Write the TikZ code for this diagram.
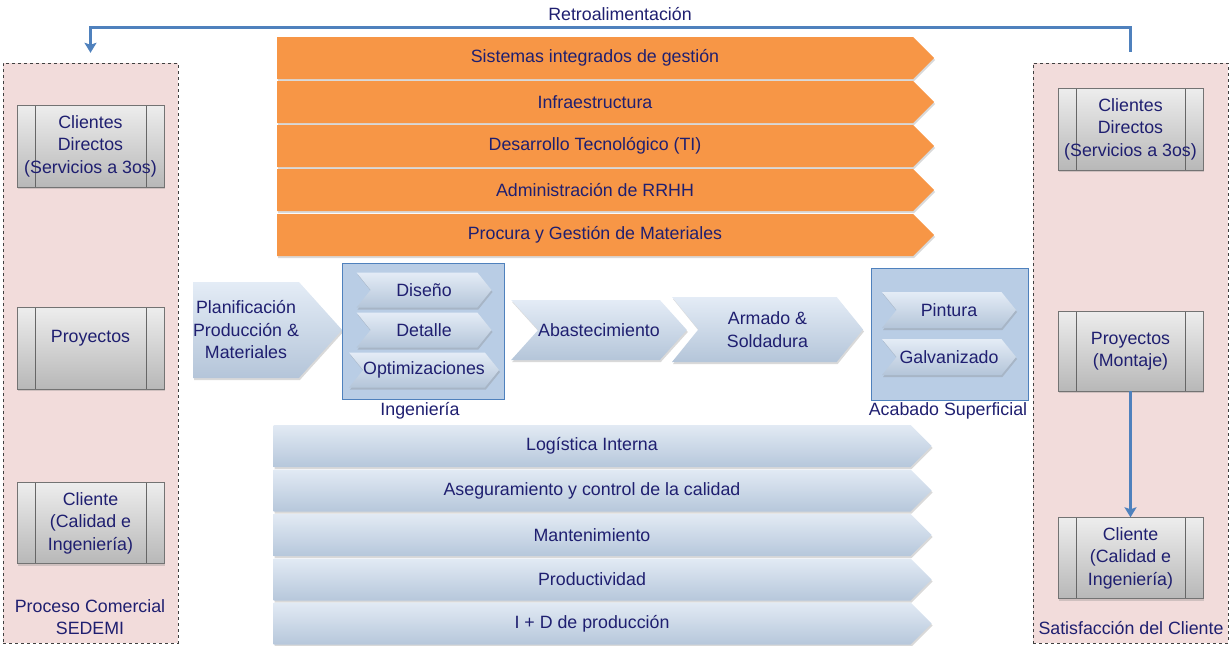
\documentclass[tikz,border=0pt]{standalone}
\usepackage{fontspec}
\setmainfont{Liberation Sans}
\usetikzlibrary{shapes.symbols,shadows,arrows.meta}
\definecolor{azultxt}{RGB}{31,31,112}
\definecolor{naranja}{RGB}{247,150,70}
\definecolor{rosa}{RGB}{242,220,219}
\definecolor{azulfl}{RGB}{79,129,189}
\definecolor{azulcaja}{RGB}{185,205,229}
\tikzset{
  sombra/.style = {drop shadow={opacity=0.3, shadow xshift=1pt, shadow yshift=-2pt}},
  apoyo/.style = {signal, signal to=east, fill=naranja, minimum width=657pt, minimum height=42pt, inner sep=0pt, sombra},
  soporte/.style = {signal, signal to=east, top color={rgb,255:red,226;green,234;blue,244}, bottom color={rgb,255:red,182;green,199;blue,219}, minimum width=658pt, minimum height=42pt, inner sep=0pt, sombra},
  etapa/.style = {signal, signal to=east, signal from=west, top color={rgb,255:red,228;green,236;blue,246}, bottom color={rgb,255:red,180;green,197;blue,217}, inner sep=0pt, align=center, sombra},
  grupo/.style = {draw=azulfl, fill=azulcaja, line width=0.8pt, inner sep=0pt},
  zona/.style = {draw=black!75, dashed, fill=rosa, inner sep=0pt},
  cliente/.style = {draw=black!55, top color=black!7, bottom color=black!28, align=center, inner sep=0pt, sombra,
    path picture={
      \draw[black!60] ([xshift=18pt]path picture bounding box.north west) -- ([xshift=18pt]path picture bounding box.south west);
      \draw[black!60] ([xshift=-18pt]path picture bounding box.north east) -- ([xshift=-18pt]path picture bounding box.south east);
    }},
  flujo/.style = {draw=azulfl, line width=3pt, -{Stealth[length=10pt,width=12pt,inset=2pt]}},
}

\begin{document}
\begin{tikzpicture}[x=1pt,y=-1pt,font=\fontsize{17.8}{22.5}\selectfont,text=azultxt]
\useasboundingbox (0,0) rectangle (1231,645);

% zonas de cliente
\node[zona, minimum width=175pt, minimum height=580pt] (comercial) at (90.5,353) {};
\node[zona, minimum width=195pt, minimum height=580pt] (satisf) at (1130.5,353) {};
\node[align=center] (lblcom) at (90,617) {Proceso Comercial\\SEDEMI};
\node (lblsat) at (1131,628) {Satisfacción del Cliente};

\node[cliente, minimum width=147pt, minimum height=82pt] (lcd) at (90.5,146) {Clientes\\Directos\\(Servicios a 3os)};
\node[cliente, minimum width=147pt, minimum height=82pt] (lproy) at (90.5,348) {Proyectos\\\phantom{X}};
\node[cliente, minimum width=147pt, minimum height=81pt] (lcli) at (90.5,523) {Cliente\\(Calidad e\\Ingeniería)};

\node[cliente, minimum width=145pt, minimum height=82pt] (rcd) at (1130.5,129) {Clientes\\Directos\\(Servicios a 3os)};
\node[cliente, minimum width=145pt, minimum height=80pt] (rproy) at (1130.5,351) {Proyectos\\(Montaje)};
\node[cliente, minimum width=145pt, minimum height=81pt] (rcli) at (1130.5,558) {Cliente\\(Calidad e\\Ingeniería)};

\draw[flujo] (rproy.south) -- (rcli.north);

% retroalimentacion
\draw[flujo] ([yshift=11pt]satisf.north) -- ++(0,-24) -| ([yshift=10pt]comercial.north);
\node (retro) at (620,14) {Retroalimentación};

% actividades de apoyo
\node[apoyo] (sig) at (595,58) {Sistemas integrados de gestión};
\node[apoyo] (infra) at (595,102) {Infraestructura};
\node[apoyo] (dti) at (595,146) {Desarrollo Tecnológico (TI)};
\node[apoyo] (rrhh) at (595,190) {Administración de RRHH};
\node[apoyo] (procura) at (595,235) {Procura y Gestión de Materiales};

% cadena principal
\node[etapa, signal from=nowhere, signal pointer angle=96, minimum width=149pt, minimum height=96pt] (plan) at (246,330) {Planificación\\Producción \&\\Materiales};

\node[grupo, minimum width=162pt, minimum height=136pt] (ing) at (423.5,331) {};
\node (lbling) at (420,411) {Ingeniería};
\node[etapa, signal pointer angle=102, minimum width=135pt, minimum height=35pt] (diseno) at (424,290) {Diseño};
\node[etapa, signal pointer angle=102, minimum width=135pt, minimum height=35pt] (detalle) at (424,330) {Detalle};
\node[etapa, signal pointer angle=102, minimum width=135pt, minimum height=35pt] (optim) at (424,370) {Optimizaciones};

\node[etapa, signal pointer angle=96, minimum width=172pt, minimum height=60pt] (abast) at (599,330) {Abastecimiento};
\node[etapa, signal pointer angle=102, minimum width=191pt, minimum height=65pt] (armado) at (767.5,329.5) {Armado \&\\Soldadura};

\node[grupo, minimum width=157pt, minimum height=132pt] (acab) at (949.5,334) {};
\node (lblacab) at (948,411) {Acabado Superficial};
\node[etapa, signal pointer angle=102, minimum width=134pt, minimum height=36pt] (pintura) at (949,310) {Pintura};
\node[etapa, signal pointer angle=102, minimum width=134pt, minimum height=36pt] (galv) at (949,357) {Galvanizado};

% actividades de soporte
\node[soporte] (logist) at (592,446) {Logística Interna};
\node[soporte] (calidad) at (592,490.5) {Aseguramiento y control de la calidad};
\node[soporte] (mant) at (592,535) {Mantenimiento};
\node[soporte] (prod) at (592,579.5) {Productividad};
\node[soporte] (imasd) at (592,623.5) {I + D de producción};
\end{tikzpicture}
\end{document}
